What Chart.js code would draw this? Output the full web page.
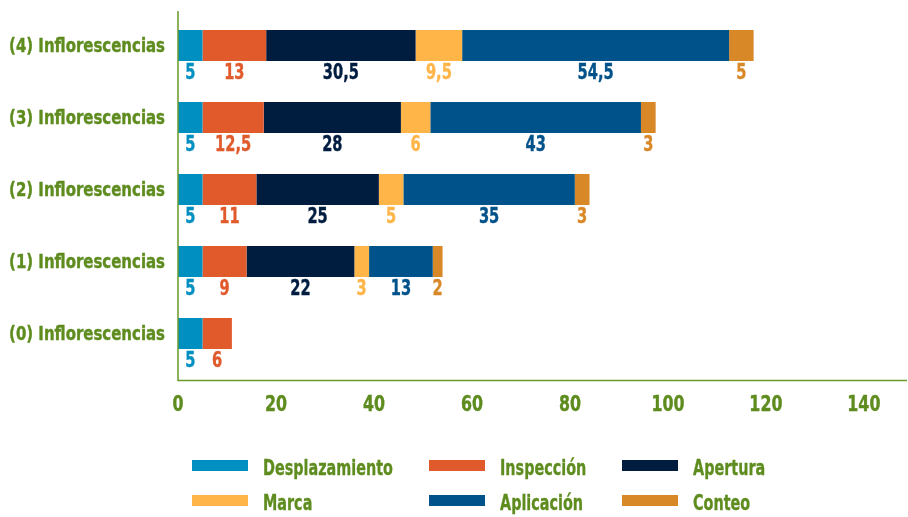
<!DOCTYPE html>
<html>
<head>
<meta charset="utf-8">
<script src="https://cdn.jsdelivr.net/npm/chart.js@4/dist/chart.umd.min.js"></script>
<style>
  html, body { margin: 0; padding: 0; background: #fff; }
  #wrap { position: relative; width: 908px; height: 517px; }
  #legend { position: absolute; left: 0; top: 0; width: 908px; height: 517px; pointer-events: none; }
  .lg-box { position: absolute; width: 56px; height: 11px; }
  .lg-text { position: absolute; font: bold 20.5px 'DejaVu Sans Condensed', 'DejaVu Sans', sans-serif; color: #5e8c1f; line-height: 20px; white-space: nowrap; transform: scaleX(0.78); transform-origin: 0 0; -webkit-text-stroke: 0.3px #5e8c1f; }
</style>
</head>
<body>
<div id="wrap">
  <canvas id="myChart"></canvas>
  <div id="legend"></div>
</div>
<script>
// categories, top to bottom
const categories = ['(4) Inflorescencias', '(3) Inflorescencias', '(2) Inflorescencias', '(1) Inflorescencias', '(0) Inflorescencias'];

const desplazamiento = [5, 5, 5, 5, 5];
const inspeccion = [13, 12.5, 11, 9, 6];
const apertura = [30.5, 28, 25, 22, null];
const marca = [9.5, 6, 5, 3, null];
const aplicacion = [54.5, 43, 35, 13, null];
const conteo = [5, 3, 3, 2, null];

const seriesNames = ['Desplazamiento', 'Inspección', 'Apertura', 'Marca', 'Aplicación', 'Conteo'];
const seriesColors = ['#008fc1', '#e05a2c', '#001d40', '#ffb548', '#00538a', '#d98828'];
const xTicks = [0, 20, 40, 60, 80, 100, 120, 140];

const GREEN = '#5e8c1f';
const FONT = "'DejaVu Sans Condensed', 'DejaVu Sans', sans-serif";

const allSeries = [desplazamiento, inspeccion, apertura, marca, aplicacion, conteo];

const datasets = allSeries.map((vals, i) => ({
  label: seriesNames[i],
  data: vals,
  backgroundColor: seriesColors[i],
  borderWidth: 0,
  barPercentage: 0.43,
  categoryPercentage: 1
}));

// no narrow font installed, so squeeze the text horizontally
function narrowText(ctx, text, x, y, align, sx) {
  ctx.save();
  ctx.translate(x, y);
  ctx.scale(sx, 1);
  ctx.textAlign = align;
  ctx.textBaseline = 'alphabetic';
  ctx.lineWidth = 0.4;
  ctx.strokeStyle = ctx.fillStyle;
  ctx.fillText(text, 0, 0);
  ctx.strokeText(text, 0, 0);
  ctx.restore();
}

// value labels under every segment, same colour as the segment
const valueLabels = {
  id: 'valueLabels',
  afterDatasetsDraw(chart) {
    const ctx = chart.ctx;
    ctx.save();
    ctx.font = 'bold 22px ' + FONT;
    chart.data.datasets.forEach((ds, i) => {
      const meta = chart.getDatasetMeta(i);
      meta.data.forEach((bar, j) => {
        const v = ds.data[j];
        if (v == null) return;
        ctx.fillStyle = ds.backgroundColor;
        const x = (bar.x + bar.base) / 2;
        const y = bar.y + bar.height / 2 + 18.3;
        narrowText(ctx, String(v).replace('.', ','), x, y, 'center', 0.74);
      });
    });
    ctx.restore();
  }
};

// tick labels for both axes, placed from the scales
const axisLabels = {
  id: 'axisLabels',
  afterDraw(chart) {
    const ctx = chart.ctx;
    const a = chart.chartArea;
    const xs = chart.scales.x, ys = chart.scales.y;
    ctx.save();
    ctx.fillStyle = GREEN;
    ctx.font = 'bold 19px ' + FONT;
    ys.ticks.forEach((t, i) => {
      narrowText(ctx, chart.data.labels[i], a.left - 13, ys.getPixelForTick(i) + 6.5, 'right', 0.875);
    });
    ctx.font = 'bold 22px ' + FONT;
    xs.ticks.forEach((t) => {
      narrowText(ctx, String(t.value), xs.getPixelForValue(t.value), a.bottom + 41, 'center', 0.8);
    });
    ctx.restore();
  }
};

// axis lines: left one from top, bottom one a bit under the last bar row
const axisLines = {
  id: 'axisLines',
  afterDraw(chart) {
    const a = chart.chartArea;
    const ctx = chart.ctx;
    const yb = a.bottom + 11;
    ctx.save();
    ctx.strokeStyle = '#6a9a2c';
    ctx.lineWidth = 1.5;
    ctx.beginPath();
    ctx.moveTo(a.left, a.top + 1.5);
    ctx.lineTo(a.left, yb);
    ctx.lineTo(a.right + 1, yb);
    ctx.stroke();
    ctx.restore();
  }
};

const ctx = document.getElementById('myChart');
const myChart = new Chart(ctx, {
  type: 'bar',
  data: { labels: categories, datasets: datasets },
  plugins: [valueLabels, axisLines, axisLabels],
  options: {
    indexAxis: 'y',
    responsive: true,
    maintainAspectRatio: false,
    animation: false,
    layout: { padding: { top: 9.5, right: 2, left: 0, bottom: 0 } },
    plugins: {
      legend: { display: false },
      tooltip: { enabled: false }
    },
    scales: {
      x: {
        stacked: true,
        min: 0,
        max: 148.6,
        afterBuildTicks: (scale) => { scale.ticks = xTicks.map(v => ({ value: v })); },
        afterFit: (scale) => { scale.height = 147.5; },
        grid: { display: false, drawTicks: false },
        border: { display: false },
        ticks: { display: false }
      },
      y: {
        stacked: true,
        afterFit: (scale) => { scale.width = 178; },
        grid: { display: false, drawTicks: false },
        border: { display: false },
        ticks: { display: false }
      }
    }
  }
});

// legend: 3 columns x 2 rows
const legendCols = [192, 429, 622];
const legendRows = [460, 495];
const lg = document.getElementById('legend');
seriesNames.forEach((name, i) => {
  const c = legendCols[i % 3], r = legendRows[Math.floor(i / 3)];
  const box = document.createElement('div');
  box.className = 'lg-box';
  box.style.left = c + 'px';
  box.style.top = r + 'px';
  box.style.background = seriesColors[i];
  const t = document.createElement('div');
  t.className = 'lg-text';
  t.style.left = (c + 71) + 'px';
  t.style.top = (r - 2) + 'px';
  t.textContent = name;
  lg.appendChild(box);
  lg.appendChild(t);
});
</script>
</body>
</html>
